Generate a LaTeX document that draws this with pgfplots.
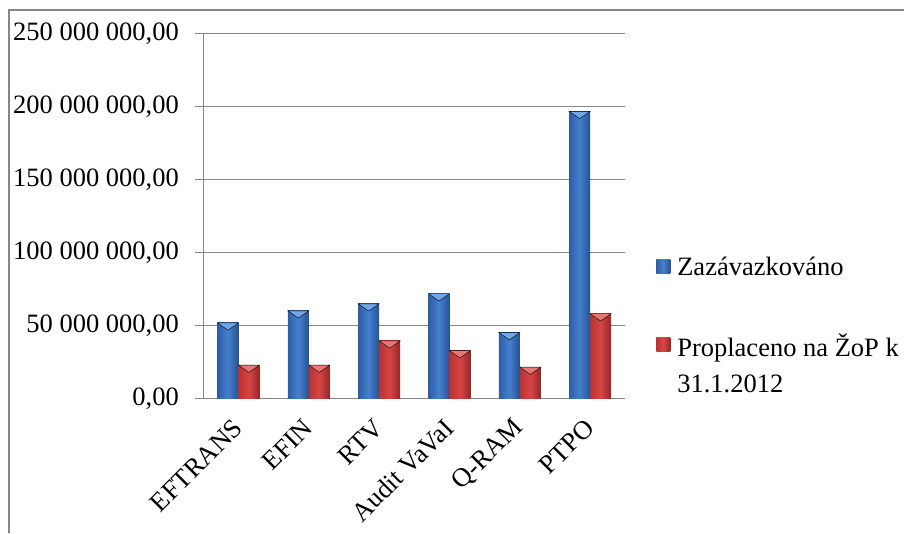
\documentclass[border=0pt]{standalone}
\usepackage{pgfplots}
\pgfplotsset{compat=1.18}
\usepackage{fontspec}
\setmainfont{Liberation Serif}
\definecolor{gridc}{HTML}{868686}
\definecolor{bL}{HTML}{2E5DA6}
\definecolor{bM}{HTML}{4480CE}
\definecolor{bR}{HTML}{27518F}
\definecolor{bT}{HTML}{6FA6EC}
\definecolor{rL}{HTML}{B83333}
\definecolor{rM}{HTML}{D64545}
\definecolor{rR}{HTML}{962626}
\definecolor{rT}{HTML}{EA7575}
\begin{document}
\begin{tikzpicture}[x=1pt,y=1pt]
\useasboundingbox (0,0) rectangle (904,533);
\draw[gridc, line width=1.2pt] (9,0) -- (9,523) -- (904,523);
\begin{axis}[
  at={(203.3pt,134.7pt)}, anchor=south west,
  scale only axis, width=422pt, height=365pt,
  xmin=-0.5, xmax=5.5, ymin=0, ymax=250000000,
  ybar, bar width=21pt,
  bluebar/.style={draw=none, shading=axis, left color=bL, right color=bR, middle color=bM, bar shift=-10.5pt},
  redbar/.style={draw=none, shading=axis, left color=rL, right color=rR, middle color=rM, bar shift=10.5pt},
  axis lines=left, axis line style={gridc, line width=1.2pt, -},
  tick align=outside,
  ytick={0,50000000,100000000,150000000,200000000,250000000},
  yticklabels={{0,00},{50 000 000,00},{100 000 000,00},{150 000 000,00},{200 000 000,00},{250 000 000,00}},
  scaled y ticks=false,
  ytick style={gridc, line width=1.2pt},
  major tick length=8pt,
  ymajorgrids, grid style={gridc, line width=1.2pt},
  xtick={0,1,2,3,4,5},
  xticklabels={EFTRANS,EFIN,RTV,Audit VaVaI,Q-RAM,PTPO},
  xtick style={draw=none},
  extra x ticks={-0.5,0.5,1.5,2.5,3.5,4.5,5.5},
  extra x tick labels={},
  extra x tick style={tick style={gridc, line width=1.2pt}, major tick length=10pt, grid=none},
  every tick label/.append style={font=\fontsize{26.5}{32}\selectfont},
  /pgf/number format/assume math mode=true,
  yticklabel style={xshift=-13pt},
  xticklabel style={xshift=2pt, yshift=-15pt, rotate=45, anchor=east},
  legend style={at={(1.073,0.392)}, anchor=north west, draw=none, fill=none,
    font=\fontsize{26.5}{36}\selectfont, cells={anchor=west, align=left},
    row sep=52pt, inner sep=0pt},
  legend cell align=left,
]
\addplot[bluebar, legend image code/.code={\draw[draw=none, shading=axis, left color=bL, right color=bR, middle color=bM] (0pt,-6pt) rectangle (14pt,8pt); \fill[bT] (0pt,8pt) -- (14pt,8pt) -- (7pt,3pt) -- cycle; \path (19pt,0pt);}]
  coordinates {(0,51600000)};
\addlegendentry{Zazávazkováno}
\addplot[bluebar, forget plot] coordinates {(1,59900000)};
\addplot[bluebar, forget plot] coordinates {(2,64700000)};
\addplot[bluebar, forget plot] coordinates {(3,71600000)};
\addplot[bluebar, forget plot] coordinates {(4,45000000)};
\addplot[bluebar, forget plot] coordinates {(5,196500000)};
\addplot[redbar, legend image code/.code={\draw[draw=none, shading=axis, left color=rL, right color=rR, middle color=rM] (0pt,12pt) rectangle (14pt,26pt); \fill[rT] (0pt,26pt) -- (14pt,26pt) -- (7pt,21pt) -- cycle; \path (19pt,0pt);}]
  coordinates {(0,22700000)};
\addlegendentry{Proplaceno na ŽoP k\\31.1.2012}
\addplot[redbar, forget plot] coordinates {(1,22700000)};
\addplot[redbar, forget plot] coordinates {(2,39300000)};
\addplot[redbar, forget plot] coordinates {(3,32600000)};
\addplot[redbar, forget plot] coordinates {(4,21300000)};
\addplot[redbar, forget plot] coordinates {(5,57900000)};
% bevel highlights on bar tops
\addplot[only marks, forget plot, mark=triangle*, mark size=12.1pt,
  mark options={draw=none, fill=bT, xshift=-10.5pt, yshift=-2.4pt, yscale=0.4, rotate=180}]
  coordinates {(0,51600000) (1,59900000) (2,64700000) (3,71600000) (4,45000000) (5,196500000)};
\addplot[only marks, forget plot, mark=triangle*, mark size=12.1pt,
  mark options={draw=none, fill=rT, xshift=10.5pt, yshift=-2.4pt, yscale=0.4, rotate=180}]
  coordinates {(0,22700000) (1,22700000) (2,39300000) (3,32600000) (4,21300000) (5,57900000)};
\end{axis}
\end{tikzpicture}
\end{document}
